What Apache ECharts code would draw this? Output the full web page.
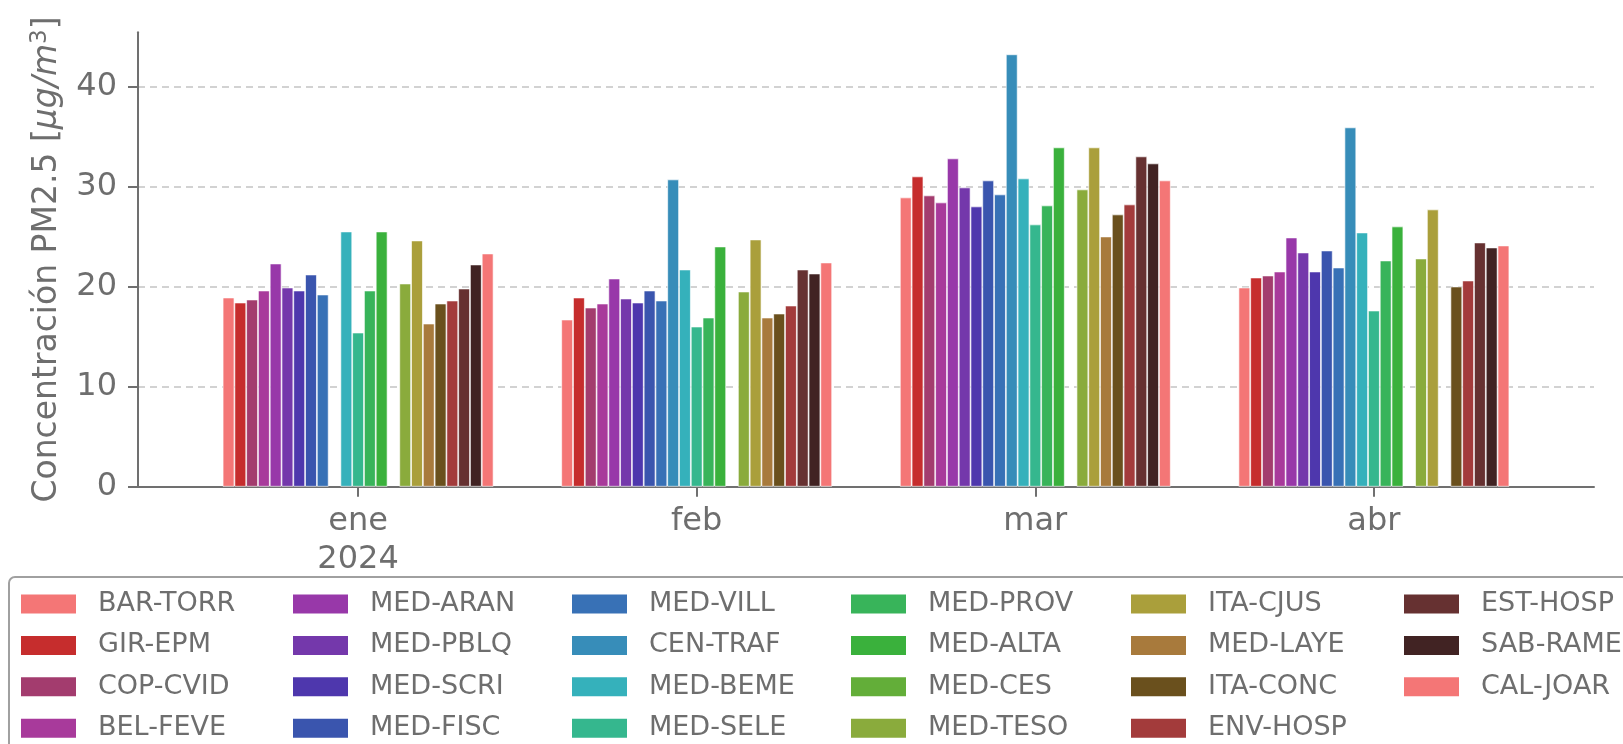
<!DOCTYPE html>
<html>
<head>
<meta charset="utf-8">
<script src="https://cdn.jsdelivr.net/npm/echarts@6/dist/echarts.min.js"></script>
<style>
  html, body { margin: 0; padding: 0; background: #fff; }
  #chart { width: 1623px; height: 744px; }
</style>
</head>
<body>
<div id="chart"></div>
<script>
var months = ['ene\n2024', 'feb', 'mar', 'abr'];
var yTicks = [0, 10, 20, 30, 40];

var stations = ['BAR-TORR', 'GIR-EPM', 'COP-CVID', 'BEL-FEVE', 'MED-ARAN', 'MED-PBLQ',
    'MED-SCRI', 'MED-FISC', 'MED-VILL', 'CEN-TRAF', 'MED-BEME', 'MED-SELE', 'MED-PROV',
    'MED-ALTA', 'MED-CES', 'MED-TESO', 'ITA-CJUS', 'MED-LAYE', 'ITA-CONC', 'ENV-HOSP',
    'EST-HOSP', 'SAB-RAME', 'CAL-JOAR'];

var colors = ['#f47676', '#c62d2d', '#a33c6e', '#a83a9b', '#9838a9', '#7438ab',
    '#4e37ad', '#3a55ae', '#3871b6', '#378db9', '#35b1bb', '#35b78e', '#38b45a',
    '#3ab13c', '#63ae39', '#8aab3c', '#aa9f3b', '#a87a3c', '#6a501d', '#a33b3b',
    '#663131', '#412323', '#f47676'];

// one array per month, same order as stations (null = no data)
var ene = [18.9, 18.4, 18.7, 19.6, 22.3, 19.9, 19.6, 21.2, 19.2, null, 25.5, 15.4, 19.6,
    25.5, null, 20.3, 24.6, 16.3, 18.3, 18.6, 19.8, 22.2, 23.3];
var feb = [16.7, 18.9, 17.9, 18.3, 20.8, 18.8, 18.4, 19.6, 18.6, 30.7, 21.7, 16.0, 16.9,
    24.0, null, 19.5, 24.7, 16.9, 17.3, 18.1, 21.7, 21.3, 22.4];
var mar = [28.9, 31.0, 29.1, 28.4, 32.8, 29.9, 28.0, 30.6, 29.2, 43.2, 30.8, 26.2, 28.1,
    33.9, null, 29.7, 33.9, 25.0, 27.2, 28.2, 33.0, 32.3, 30.6];
var abr = [19.9, 20.9, 21.1, 21.5, 24.9, 23.4, 21.5, 23.6, 21.9, 35.9, 25.4, 17.6, 22.6,
    26.0, null, 22.8, 27.7, null, 20.0, 20.6, 24.4, 23.9, 24.1];

var monthly = [ene, feb, mar, abr];
var textColor = '#6e6e6e';
var font = 'DejaVu Sans';

var chart = echarts.init(document.getElementById('chart'));

var series = stations.map(function (name, s) {
    return {
        name: name,
        type: 'bar',
        barGap: '0%',
        barCategoryGap: '20%',
        itemStyle: { color: colors[s], borderColor: 'rgba(255,255,255,0.8)', borderWidth: 0.8 },
        data: monthly.map(function (m, i) {
            return [i, m[s] == null ? '-' : m[s]];
        })
    };
});

// legend laid out column by column, 4 rows x 6 columns
var legendCols = [21, 293, 572, 851, 1131, 1404];
var legends = legendCols.map(function (x, c) {
    return {
        orient: 'vertical',
        left: x,
        top: 589,
        padding: 0,
        itemWidth: 55,
        itemHeight: 19,
        itemGap: 11.4,
        icon: 'rect',
        selectedMode: false,
        itemStyle: { borderWidth: 0 },
        data: stations.slice(c * 4, c * 4 + 4),
        textStyle: { fontFamily: font, fontSize: 27, color: textColor, lineHeight: 30, padding: [0, 0, 0, 17] }
    };
});

chart.setOption({
    animation: false,
    backgroundColor: '#fff',
    grid: { left: 138, right: 29, top: 32.3, bottom: 257.3, containLabel: false },
    legend: legends,
    graphic: [{
        type: 'rect',
        shape: { x: 9, y: 577, width: 1660, height: 220, r: 6 },
        style: { fill: 'none', stroke: '#a0a0a0', lineWidth: 2 },
        z: 10
    }],
    xAxis: {
        type: 'value',
        min: -0.65,
        max: 3.65,
        splitLine: { show: false },
        axisLine: { onZero: false, lineStyle: { color: '#707070', width: 2 } },
        axisTick: { show: true, length: 10, customValues: [0, 1, 2, 3], lineStyle: { color: '#707070', width: 2 } },
        axisLabel: {
            customValues: [0, 1, 2, 3],
            formatter: function (v) { return months[Math.round(v)]; },
            fontFamily: font, fontSize: 32, color: textColor, lineHeight: 38, margin: 16
        }
    },
    yAxis: {
        type: 'value',
        min: 0,
        max: 45.4,
        interval: 10,
        name: '{a|Concentración PM2.5 [}{i|μg/m}{s|3}{a|]}',
        nameLocation: 'middle',
        nameGap: 72,
        nameTextStyle: {
            fontFamily: font, fontSize: 33, color: textColor,
            rich: {
                a: { fontFamily: font, fontSize: 33, color: textColor },
                i: { fontFamily: font, fontSize: 33, color: textColor, fontStyle: 'italic' },
                s: { fontFamily: font, fontSize: 23, color: textColor, verticalAlign: 'top', padding: [0, 0, 14, 0] }
            }
        },
        axisLine: { show: true, onZero: false, lineStyle: { color: '#707070', width: 2 } },
        axisTick: { show: true, length: 10, customValues: yTicks, lineStyle: { color: '#707070', width: 2 } },
        axisLabel: { customValues: yTicks, fontFamily: font, fontSize: 32, color: textColor, margin: 21 },
        splitLine: {
            show: true,
            lineStyle: { color: '#c4c4c4', width: 1.6, type: [7, 5] }
        }
    },
    series: series
});
</script>
</body>
</html>
